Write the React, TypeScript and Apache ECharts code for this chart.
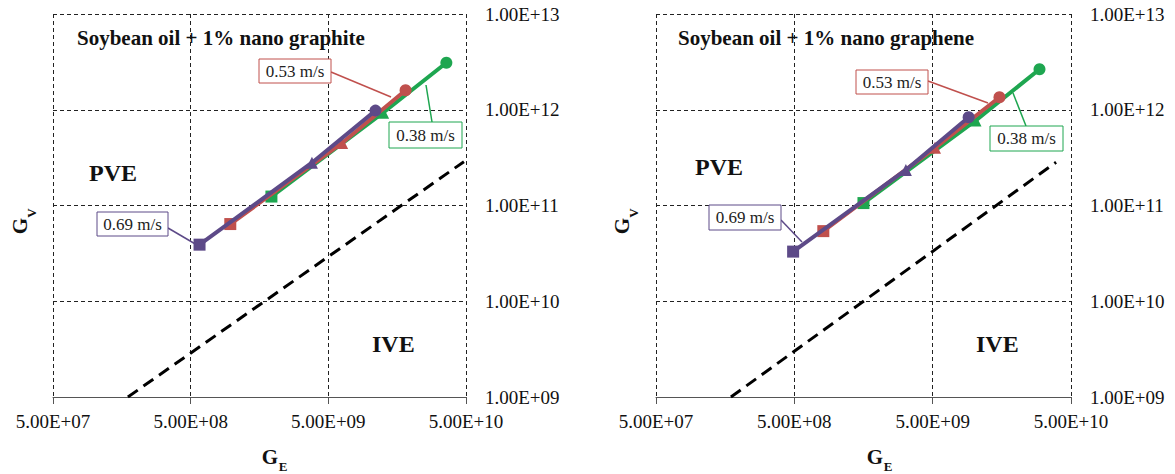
import React, { useEffect, useRef } from 'react';
import * as echarts from 'echarts';

// Axis ranges (both axes logarithmic)
const GE_MIN = 5e7;
const GE_MAX = 5e10;
const GV_MIN = 1e9;
const GV_MAX = 1e13;

// Marker shape of each point along a curve (low -> high)
const POINT_SYMBOLS = ['rect', 'triangle', 'circle'];

const SPEED_LABELS = ['0.38 m/s', '0.53 m/s', '0.69 m/s'];
const SPEED_COLORS = ['#1ea650', '#c0504d', '#5d4a88'];

// Soybean oil + 1% nano graphite
const GRAPHITE_038_GE = [1.93e9, 1.25e10, 3.6e10];
const GRAPHITE_038_GV = [1.24e11, 9.3e11, 3.1e12];
const GRAPHITE_053_GE = [9.7e8, 6.3e9, 1.82e10];
const GRAPHITE_053_GV = [6.4e10, 4.5e11, 1.6e12];
const GRAPHITE_069_GE = [5.8e8, 3.8e9, 1.1e10];
const GRAPHITE_069_GV = [3.9e10, 2.8e11, 9.8e11];
const GRAPHITE_BOUNDARY_GE = [1.75e8, 4.83e10];
const GRAPHITE_BOUNDARY_GV = [1e9, 2.87e11];

// Soybean oil + 1% nano graphene
const GRAPHENE_038_GE = [1.58e9, 1.02e10, 2.96e10];
const GRAPHENE_038_GV = [1.06e11, 7.7e11, 2.65e12];
const GRAPHENE_053_GE = [8.1e8, 5.2e9, 1.52e10];
const GRAPHENE_053_GV = [5.4e10, 4.0e11, 1.35e12];
const GRAPHENE_069_GE = [4.9e8, 3.2e9, 9.1e9];
const GRAPHENE_069_GV = [3.3e10, 2.35e11, 8.35e11];
const GRAPHENE_BOUNDARY_GE = [1.74e8, 3.9e10];
const GRAPHENE_BOUNDARY_GV = [1e9, 2.83e11];

const PANEL_TITLES = ['Soybean oil + 1% nano graphite', 'Soybean oil + 1% nano graphene'];

const PANEL_DATA = [
  {
    curves: [
      [GRAPHITE_038_GE, GRAPHITE_038_GV],
      [GRAPHITE_053_GE, GRAPHITE_053_GV],
      [GRAPHITE_069_GE, GRAPHITE_069_GV],
    ],
    boundary: [GRAPHITE_BOUNDARY_GE, GRAPHITE_BOUNDARY_GV],
  },
  {
    curves: [
      [GRAPHENE_038_GE, GRAPHENE_038_GV],
      [GRAPHENE_053_GE, GRAPHENE_053_GV],
      [GRAPHENE_069_GE, GRAPHENE_069_GV],
    ],
    boundary: [GRAPHENE_BOUNDARY_GE, GRAPHENE_BOUNDARY_GV],
  },
];

// Page layout of each panel (pixels)
const LAYOUT = [
  {
    grid: { left: 53, top: 14, width: 413, height: 383 },
    title: [77, 38],
    pve: [89, 173],
    ive: [372, 344],
    // axis names: [main letter x, y, subscript x, y]
    gv: [20, 226, 31, 213],
    ge: [270, 457, 283, 466],
    // [speed index, box x, y, w, h, leader x1, y1, x2, y2]
    callouts: [
      [1, 259, 59, 72, 24, 331, 72, 391, 97],
      [0, 389, 122, 73, 26, 432, 122, 426, 85],
      [2, 97, 212, 71, 24, 168, 228, 197, 245],
    ],
  },
  {
    grid: { left: 656, top: 14, width: 415, height: 383 },
    title: [678, 38],
    pve: [695, 167],
    ive: [976, 344],
    gv: [622, 226, 633, 213],
    ge: [875, 457, 888, 466],
    callouts: [
      [1, 856, 70, 72, 24, 928, 81, 988, 103],
      [0, 990, 126, 73, 25, 1026, 126, 1013, 93],
      [2, 709, 205, 72, 25, 781, 220, 802, 242],
    ],
  },
];

const SERIF = '"Liberation Serif", "Times New Roman", serif';

// Horizontal axis runs in decades above GE_MIN so its ticks sit at 5·10^n
const toX = (ge: number) => Math.log10(ge / GE_MIN);

function sci(v: number): string {
  const exp = Math.floor(Math.log10(v) + 1e-6);
  const m = v / Math.pow(10, exp);
  const sign = exp < 0 ? '-' : '+';
  return `${m.toFixed(2)}E${sign}${String(Math.abs(exp)).padStart(2, '0')}`;
}

function label(text: string, x: number, y: number, size: number, bold: boolean, extra: any = {}) {
  return {
    type: 'text',
    x,
    y,
    z: 100,
    ...extra,
    style: {
      text,
      fontFamily: SERIF,
      fontSize: size,
      fontWeight: bold ? 'bold' : 'normal',
      fill: '#111',
      align: extra.align || 'left',
      verticalAlign: 'middle',
    },
  };
}

function buildOption() {
  const axisFont = { fontFamily: SERIF, fontSize: 19, color: '#111' };
  const gridLine = { show: true, lineStyle: { color: '#222', width: 1, type: [4, 3] } };

  const grid = LAYOUT.map((l) => ({ ...l.grid, containLabel: false }));

  const xAxis = LAYOUT.map((_, i) => ({
    type: 'value',
    gridIndex: i,
    min: 0,
    max: Math.log10(GE_MAX / GE_MIN),
    interval: 1,
    axisLine: { show: true, onZero: false, lineStyle: { color: '#555', width: 1 } },
    axisTick: { show: true, length: 7, lineStyle: { color: '#555', width: 1 } },
    axisLabel: { ...axisFont, margin: 15, formatter: (v: number) => sci(GE_MIN * Math.pow(10, v)) },
    splitLine: gridLine,
  }));

  const yAxis = LAYOUT.map((_, i) => ({
    type: 'log',
    logBase: 10,
    gridIndex: i,
    min: GV_MIN,
    max: GV_MAX,
    position: 'right',
    axisLine: { show: false },
    axisTick: { show: false },
    axisLabel: { ...axisFont, margin: 19, formatter: (v: number) => sci(v) },
    splitLine: gridLine,
  }));

  const series: any[] = [];
  PANEL_DATA.forEach((panel, i) => {
    const [bge, bgv] = panel.boundary;
    series.push({
      type: 'line',
      xAxisIndex: i,
      yAxisIndex: i,
      symbol: 'none',
      data: bge.map((g, k) => [toX(g), bgv[k]]),
      lineStyle: { color: '#000', width: 3, type: [12, 7] },
      z: 2,
    });
    panel.curves.forEach(([ge, gv], c) => {
      series.push({
        type: 'line',
        name: SPEED_LABELS[c],
        xAxisIndex: i,
        yAxisIndex: i,
        symbolSize: 12,
        data: ge.map((g, k) => ({ value: [toX(g), gv[k]], symbol: POINT_SYMBOLS[k] })),
        lineStyle: { color: SPEED_COLORS[c], width: 4 },
        itemStyle: { color: SPEED_COLORS[c] },
        z: 3 + c,
      });
    });
  });

  const graphic: any[] = [];
  LAYOUT.forEach((l, i) => {
    graphic.push(label(PANEL_TITLES[i], l.title[0], l.title[1], 21, true));
    graphic.push(label('PVE', l.pve[0], l.pve[1], 24, true));
    graphic.push(label('IVE', l.ive[0], l.ive[1], 24, true));

    // G_V, written bottom-to-top
    graphic.push(label('G', l.gv[0], l.gv[1], 21, true, { rotation: Math.PI / 2, align: 'center' }));
    graphic.push(label('V', l.gv[2], l.gv[3], 13, true, { rotation: Math.PI / 2, align: 'center' }));
    // G_E
    graphic.push(label('G', l.ge[0], l.ge[1], 21, true, { align: 'center' }));
    graphic.push(label('E', l.ge[2], l.ge[3], 13, true, { align: 'center' }));

    l.callouts.forEach(([c, bx, by, bw, bh, x1, y1, x2, y2]) => {
      graphic.push({
        type: 'line',
        z: 101,
        shape: { x1, y1, x2, y2 },
        style: { stroke: SPEED_COLORS[c], lineWidth: 1.5 },
      });
      graphic.push({
        type: 'rect',
        z: 102,
        shape: { x: bx, y: by, width: bw, height: bh },
        style: { fill: '#fff', stroke: SPEED_COLORS[c], lineWidth: 1 },
      });
      graphic.push({
        type: 'text',
        z: 103,
        x: bx + bw / 2,
        y: by + bh / 2,
        style: {
          text: SPEED_LABELS[c],
          fontFamily: SERIF,
          fontSize: 17,
          fill: '#222',
          align: 'center',
          verticalAlign: 'middle',
        },
      });
    });
  });

  return {
    animation: false,
    backgroundColor: '#fff',
    textStyle: { fontFamily: SERIF },
    grid,
    xAxis,
    yAxis,
    series,
    graphic,
  };
}

export default function App() {
  const ref = useRef<HTMLDivElement>(null);
  useEffect(() => {
    if (!ref.current) return;
    const chart = echarts.init(ref.current, null, { renderer: 'svg' });
    chart.setOption(buildOption() as any);
    return () => chart.dispose();
  }, []);
  return (
    <div
      ref={ref}
      style={{ position: 'fixed', left: 0, top: 0, width: 1175, height: 474, background: '#fff' }}
    />
  );
}
